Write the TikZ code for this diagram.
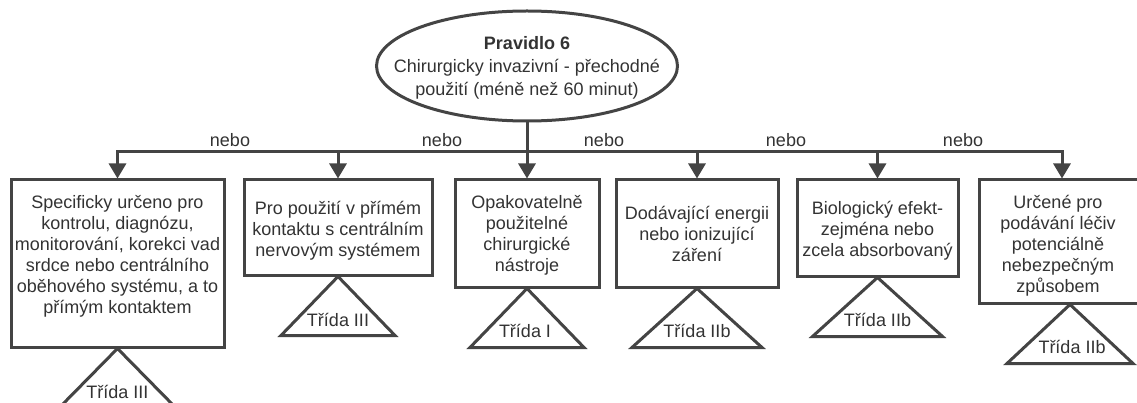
\documentclass[tikz,border=0pt]{standalone}
\usepackage{fontspec}
\setmainfont{Liberation Sans}
\usetikzlibrary{arrows.meta,shapes.geometric}
\definecolor{ln}{HTML}{444444}
\definecolor{tx}{HTML}{333333}
\begin{document}
\begin{tikzpicture}[x=1pt,y=-1pt,
  box/.style={draw=ln, line width=3pt, rectangle, inner sep=0pt, fill=white},
  txt/.style={font=\fontsize{18}{21}\selectfont, text=tx, align=center, inner sep=0pt, anchor=north},
  lab/.style={font=\fontsize{18}{21}\selectfont, text=tx, inner sep=0pt, anchor=base},
  conn/.style={draw=ln, line width=3pt},
  arr/.style={conn, -{Triangle[length=15pt,width=17pt]}},
  tri/.style={draw=ln, line width=3pt, line join=miter, fill=white}]
\useasboundingbox (0,0) rectangle (1137,403);
\clip (0,0) rectangle (1137,403);
\fill[white] (0,0) rectangle (1137,403);

% rule ellipse
\node[draw=ln, line width=3pt, ellipse, inner sep=0pt, minimum width=301, minimum height=110] (rule) at (527,66) {};
\node[font=\fontsize{18}{23}\selectfont, text=tx, align=center, inner sep=0pt] (ruletxt) at (527,68)
  {\textbf{Pravidlo 6}\\Chirurgicky invazivní - přechodné\\použití (méně než 60 minut)};

% boxes
\node[box, minimum width=213, minimum height=167] (b1) at (117.5,263.5) {};
\node[box, minimum width=188, minimum height=95]  (b2) at (338,227.5) {};
\node[box, minimum width=144, minimum height=107] (b3) at (527,233.5) {};
\node[box, minimum width=162, minimum height=107] (b4) at (697,233.5) {};
\node[box, minimum width=161, minimum height=96]  (b5) at (877.5,228) {};
\node[box, minimum width=166, minimum height=123] (b6) at (1062,241.5) {};

% box texts
\node[txt] (t1) at (117.5,193) {\rule{0pt}{15pt}Specificky určeno pro\\kontrolu, diagnózu,\\monitorování, korekci vad\\srdce nebo centrálního\\oběhového systému, a to\\přímým kontaktem};
\node[txt] (t2) at (338,199) {\rule{0pt}{15pt}Pro použití v přímém\\kontaktu s centrálním\\nervovým systémem};
\node[txt] (t3) at (527,193) {\rule{0pt}{15pt}Opakovatelně\\použitelné\\chirurgické\\nástroje};
\node[txt] (t4) at (697,204) {\rule{0pt}{15pt}Dodávající energii\\nebo ionizující\\záření};
\node[txt] (t5) at (877.5,199) {\rule{0pt}{15pt}Biologický efekt-\\zejména nebo\\zcela absorbovaný};
\node[txt] (t6) at (1058,193) {\rule{0pt}{15pt}Určené pro\\podávání léčiv\\potenciálně\\nebezpečným\\způsobem};

% connectors
\coordinate (j1) at (117.5,152);
\coordinate (j2) at (338,152);
\coordinate (j4) at (697,152);
\coordinate (j5) at (877.5,152);
\coordinate (j6) at (1062,152);
\draw[conn, line cap=rect] (j1) -- (j6);
\draw[arr] (rule.south) -- (b3.north);
\draw[arr] (j1) -- (b1.north);
\draw[arr] (j2) -- (b2.north);
\draw[arr] (j4) -- (b4.north);
\draw[arr] (j5) -- (b5.north);
\draw[arr] (j6) -- (b6.north);

% nebo labels
\node[lab] (n1) at (230,147) {nebo};
\node[lab] (n2) at (442,147) {nebo};
\node[lab] (n3) at (604,147) {nebo};
\node[lab] (n4) at (786,147) {nebo};
\node[lab] (n5) at (963,147) {nebo};

% class triangles
\draw[tri] (b1.south) -- ++(58,59) -- ++(-116,0) -- cycle;
\draw[tri] (b2.south) -- ++(57,59) -- ++(-114,0) -- cycle;
\draw[tri] (b3.south) -- ++(57,59) -- ++(-114,0) -- cycle;
\draw[tri] (b4.south) -- ++(65,59) -- ++(-130,0) -- cycle;
\draw[tri] (b5.south) -- ++(65,59) -- ++(-130,0) -- cycle;
\draw[tri] ([xshift=8pt]b6.south) -- ++(63,59) -- ++(-126,0) -- cycle;

\node[lab] (c1) at (117.5,398) {Třída III};
\node[lab] (c2) at (338,326) {Třída III};
\node[lab] (c3) at (525,337) {Třída I};
\node[lab] (c4) at (697,337) {Třída IIb};
\node[lab] (c5) at (877.5,326) {Třída IIb};
\node[lab] (c6) at (1072,353) {Třída IIb};
\end{tikzpicture}
\end{document}
